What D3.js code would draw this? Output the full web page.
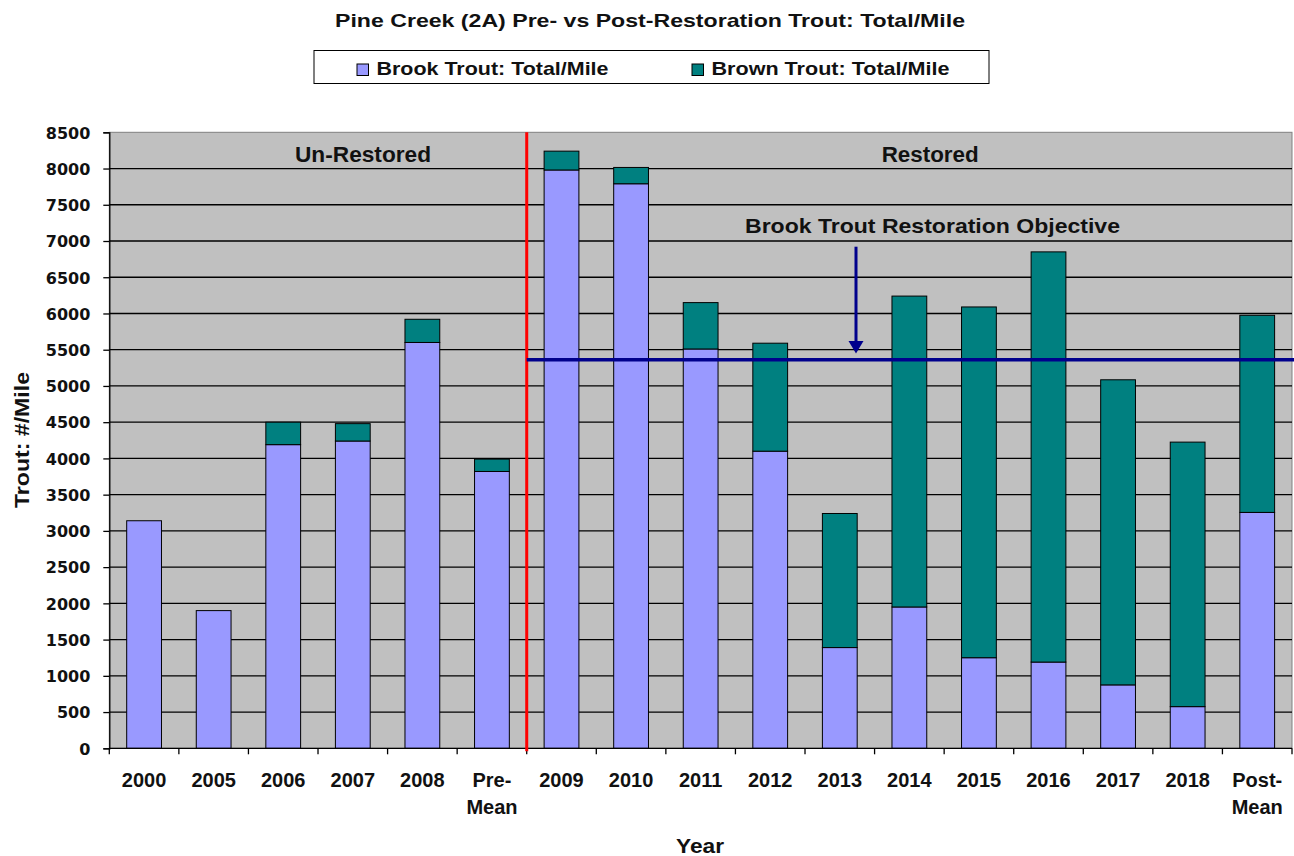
<!DOCTYPE html>
<html>
<head>
<meta charset="utf-8">
<script src="https://cdn.jsdelivr.net/npm/d3@7"></script>
<style>
  html, body { margin: 0; padding: 0; background: #ffffff; }
  svg { display: block; }
  text { font-family: "Liberation Sans", Arial, sans-serif; font-weight: bold; fill: #111; }
</style>
</head>
<body>
<svg id="chart" width="1294" height="856"></svg>
<script>
// ---------- data ----------
const categories = ["2000","2005","2006","2007","2008","Pre-Mean","2009","2010","2011","2012","2013","2014","2015","2016","2017","2018","Post-Mean"];
const xTickLabels = [["2000"],["2005"],["2006"],["2007"],["2008"],["Pre-","Mean"],["2009"],["2010"],["2011"],["2012"],["2013"],["2014"],["2015"],["2016"],["2017"],["2018"],["Post-","Mean"]];
const brookTrout = [3140,1900,4190,4240,5600,3820,7980,7790,5510,4100,1390,1950,1250,1190,875,575,3255];
const brownTrout = [0,0,310,240,320,170,260,225,640,1490,1850,4290,4840,5660,4210,3650,2720];
const yTickValues = [0,500,1000,1500,2000,2500,3000,3500,4000,4500,5000,5500,6000,6500,7000,7500,8000,8500];
const seriesNames = ["Brook Trout: Total/Mile","Brown Trout: Total/Mile"];
const objectiveValue = 5360;
const titleText = "Pine Creek (2A) Pre- vs Post-Restoration Trout: Total/Mile";

// ---------- layout ----------
const svg = d3.select("#chart");
const plot = { left: 109.3, right: 1292, top: 132.3, bottom: 748.3 };
const colors = { brook: "#9999ff", brown: "#008080" };

const x = d3.scaleBand().domain(categories).range([plot.left, plot.right]).paddingInner(0.5).paddingOuter(0.25);
const y = d3.scaleLinear().domain([0, 8500]).range([plot.bottom, plot.top]);

// helper: text stretched to a given width (reference text is drawn wide)
function fit(sel, w) { return sel.attr("textLength", w).attr("lengthAdjust", "spacingAndGlyphs"); }

// plot background
svg.append("rect").attr("x", plot.left).attr("y", plot.top)
  .attr("width", plot.right - plot.left).attr("height", plot.bottom - plot.top)
  .attr("fill", "#c0c0c0").attr("stroke", "#808080").attr("stroke-width", 1);

// gridlines
svg.append("g").selectAll("line").data(yTickValues.filter(v => v > 0 && v < 8500)).join("line")
  .attr("x1", plot.left).attr("x2", plot.right)
  .attr("y1", d => y(d)).attr("y2", d => y(d))
  .attr("stroke", "#000").attr("stroke-width", 1.3);

// stacked bars
const rows = categories.map((c, i) => ({ cat: c, brook: brookTrout[i], brown: brownTrout[i] }));
const stack = d3.stack().keys(["brook", "brown"])(rows);
svg.append("g").selectAll("g").data(stack).join("g")
  .attr("fill", d => colors[d.key])
  .selectAll("rect").data(d => d.filter(s => s[1] - s[0] > 0)).join("rect")
  .attr("x", d => x(d.data.cat))
  .attr("width", x.bandwidth())
  .attr("y", d => y(d[1]))
  .attr("height", d => y(d[0]) - y(d[1]))
  .attr("stroke", "#000").attr("stroke-width", 1);

// y axis
const yAxis = d3.axisLeft(y).tickValues(yTickValues).tickSize(6).tickPadding(13).tickFormat(d3.format("d"));
const gy = svg.append("g").attr("transform", `translate(${plot.left},0)`).call(yAxis);
gy.select(".domain").attr("stroke", "#000").attr("stroke-width", 1.3);
gy.selectAll(".tick line").attr("stroke", "#000").attr("stroke-width", 1.3);
gy.selectAll(".tick text").style("font-family", "'DejaVu Sans', sans-serif").style("font-size", "16px").style("font-weight", "bold").attr("fill", "#111").attr("dy", "0.36em");

// x axis
const boundaries = categories.map(c => x(c) - x.step() * x.paddingInner() / 2).concat([plot.right]);
const gx = svg.append("g");
gx.append("line").attr("x1", plot.left).attr("x2", plot.right).attr("y1", plot.bottom).attr("y2", plot.bottom)
  .attr("stroke", "#000").attr("stroke-width", 1.3);
gx.selectAll("line.tk").data([plot.left].concat(boundaries.slice(1))).join("line").attr("class", "tk")
  .attr("x1", d => d).attr("x2", d => d).attr("y1", plot.bottom).attr("y2", plot.bottom + 6)
  .attr("stroke", "#000").attr("stroke-width", 1.3);
const xl = gx.selectAll("text.xl").data(categories).join("text").attr("class", "xl")
  .attr("x", d => x(d) + x.bandwidth() / 2)
  .attr("y", 787)
  .attr("text-anchor", "middle")
  .style("font-size", "20px");
xl.selectAll("tspan").data((d, i) => xTickLabels[i]).join("tspan")
  .attr("x", function () { return d3.select(this.parentNode).attr("x"); })
  .attr("dy", (d, i) => i === 0 ? 0 : 26.7)
  .text(d => d);

// restoration divider (between Pre-Mean and 2009)
const dividerX = x("2009") - x.step() * x.paddingInner() / 2;
svg.append("line").attr("x1", dividerX).attr("x2", dividerX).attr("y1", plot.top).attr("y2", plot.bottom + 3)
  .attr("stroke", "#ff0000").attr("stroke-width", 3);

// objective line
svg.append("line").attr("x1", dividerX).attr("x2", 1294).attr("y1", y(objectiveValue)).attr("y2", y(objectiveValue))
  .attr("stroke", "#00008c").attr("stroke-width", 3.5);

// arrow
const arrowX = 856;
svg.append("line").attr("x1", arrowX).attr("x2", arrowX).attr("y1", 246.7).attr("y2", 343)
  .attr("stroke", "#00008c").attr("stroke-width", 3);
svg.append("path").attr("d", `M${arrowX - 7.5},341 L${arrowX + 7.5},341 L${arrowX},353.5 Z`).attr("fill", "#00008c");

// annotations
fit(svg.append("text").attr("x", 745).attr("y", 233).style("font-size", "20.5px").text("Brook Trout Restoration Objective"), 375);
fit(svg.append("text").attr("x", 295).attr("y", 162.3).style("font-size", "22px").text("Un-Restored"), 136);
fit(svg.append("text").attr("x", 881.7).attr("y", 162.3).style("font-size", "22px").text("Restored"), 97);

// title
fit(svg.append("text").attr("x", 335).attr("y", 26.7).style("font-size", "18.6px").text(titleText), 630);

// legend
const lg = svg.append("g");
lg.append("rect").attr("x", 314).attr("y", 50.5).attr("width", 675).attr("height", 33).attr("fill", "#fff").attr("stroke", "#000").attr("stroke-width", 1);
const legendItems = [
  { name: seriesNames[0], color: colors.brook, x: 357, w: 232 },
  { name: seriesNames[1], color: colors.brown, x: 692, w: 238 }
];
const li = lg.selectAll("g").data(legendItems).join("g").attr("transform", d => `translate(${d.x},0)`);
li.append("rect").attr("x", 0).attr("y", 64).attr("width", 11.5).attr("height", 11.5).attr("fill", d => d.color).attr("stroke", "#000").attr("stroke-width", 1);
li.append("text").attr("x", 19.5).attr("y", 74.5).style("font-size", "19px").text(d => d.name)
  .attr("textLength", d => d.w).attr("lengthAdjust", "spacingAndGlyphs");

// axis titles
fit(svg.append("text").attr("x", 676).attr("y", 853).style("font-size", "20px").text("Year"), 48);
fit(svg.append("text").attr("transform", "translate(29,508) rotate(-90)").style("font-size", "20px").text("Trout: #/Mile"), 136);
</script>
</body>
</html>
